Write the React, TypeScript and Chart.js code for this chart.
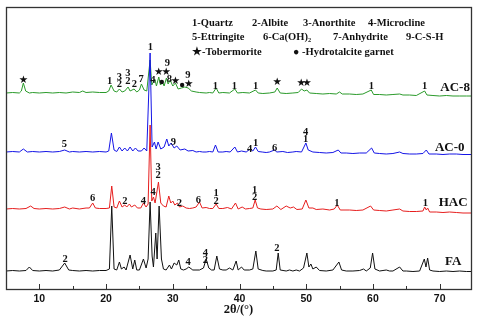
import React, { useEffect, useRef } from "react";
import { Chart, registerables } from "chart.js";

Chart.register(...registerables);

// ---- Data (2θ in degrees, stacked intensity in arbitrary units) ----
const seriesNames = ["FA", "AC-0", "HAC", "AC-8"];
const seriesColors = ["#111111", "#1414e6", "#e61e1e", "#2a9a2a"];

const faPoints: [number, number][] = [
  [5,18],[6,18.5],[7,18],[8,18.5],[8.5,22],[9,18.5],[10,18],[11,18.5],[12,18],[13,19],[13.8,26],[14.4,19],[15,18.5],[16,18],[17,18.5],[18,18],[19,18.5],[20,18.5],[20.5,20],[20.85,83],[21.2,20],[21.6,19],[22.0,27],[22.3,20],[22.7,22],[23.0,19],[23.6,34],[24.0,20],[24.3,29],[24.6,19],[25.0,19],[25.6,30],[26.0,21],[26.3,30],[26.6,87],[26.9,33],[27.1,22],[27.45,56],[27.65,30],[27.95,83],[28.3,30],[28.6,20],[29.0,19],[29.5,24],[29.8,20],[30.2,26],[30.6,24],[30.9,29],[31.2,20],[31.6,19],[32.0,20],[32.4,22],[33,19],[34,19],[34.6,21],[35.0,30],[35.4,21],[35.8,19],[36.2,19],[36.6,33],[37.0,20],[37.5,19],[38,19],[38.5,21],[39,19],[39.5,28],[39.8,19],[40.3,22],[40.7,19],[41.5,19],[42.0,20],[42.45,38],[42.8,20],[43.5,18.5],[44,18],[45,18],[45.5,19],[45.8,36],[46.1,19],[47,18],[47.5,19],[48,18],[48.5,19],[49,18],[49.6,21],[50.1,36],[50.4,22],[50.7,25],[51.0,20],[51.5,22],[52,18.5],[53,18],[54,19],[54.9,27],[55.3,19],[56,18],[57,18],[58,18.5],[58.6,20],[59,18],[59.6,21],[59.95,36],[60.3,20],[61,18],[62,19],[62.5,18],[63,18],[64,22],[64.5,18],[65,18],[66,17.5],[67,18],[67.7,30],[67.95,22],[68.2,31],[68.5,19],[69,18],[70,17.5],[71,18],[72,17.5],[73,18],[74,17.5],[75,17.5]
];

const hacPoints: [number, number][] = [
  [5,80],[6,80.5],[7,80],[8,80.5],[8.7,83],[9.2,80.5],[10,80],[11,80.5],[12,80],[13,80.5],[13.8,82],[14.5,80],[15,81],[16,80],[17,81],[17.5,81],[18.0,86],[18.4,81],[19,80.5],[20,80.5],[20.5,81],[20.85,103],[21.2,82],[21.6,81],[22.0,88],[22.4,82],[22.8,84],[23.1,82],[23.5,85],[23.8,82],[24.3,84],[24.7,81],[25.2,81],[25.6,86],[26.0,82],[26.3,85],[26.6,164],[26.85,88],[27.1,92],[27.35,86],[27.85,107],[28.2,86],[28.6,83],[29.0,82],[29.4,93],[29.7,86],[30.0,88],[30.3,84],[30.7,86],[31.0,82],[31.5,83],[32,81],[32.5,80.5],[33,81],[33.5,82],[34.0,87],[34.4,81],[35,81.5],[35.5,80.5],[36,80.5],[36.5,85],[36.9,80.5],[37.5,80.5],[38.2,81.5],[38.8,80],[39.4,86],[39.8,80],[40.4,82],[40.9,80],[41.5,80.5],[42.0,81],[42.35,89],[42.7,81],[43.2,80],[44,79.5],[45,80],[45.6,83],[46.2,79.5],[47.0,83],[47.6,81],[48.1,82],[48.6,79.5],[49.4,80],[49.95,89],[50.4,81],[51,81],[51.5,79.5],[52.5,80],[53.5,79],[54.2,80],[54.65,84],[55.1,79],[56.5,79],[57.5,78.5],[58.5,79],[59.65,83],[60.1,79],[61,78.5],[62,78],[63,79],[64,80],[64.5,78],[65.5,77.5],[66.5,77.5],[67.5,78],[67.75,82],[68.0,79],[68.2,81],[68.5,77],[69.5,77],[70.5,76.5],[71.5,77],[72.5,76.5],[73.5,76],[75,76]
];

const ac0Points: [number, number][] = [
  [5,137],[6,137.5],[7,137],[7.6,140],[8.2,137],[9,137.5],[10,137],[11,137.5],[12,137],[13,137.5],[13.8,139],[14.5,137],[15,137.5],[16,137],[17,137.5],[18,137],[19,137.5],[20,137],[20.4,138],[20.8,156],[21.2,139],[21.6,137.5],[22.0,142],[22.4,138],[22.8,141],[23.2,138],[23.6,142],[24.0,138],[24.4,141],[24.8,138],[25.3,138],[25.7,141],[26.1,138],[26.6,236],[26.9,142],[27.25,147],[27.5,140],[27.8,147],[28.2,140],[28.7,142],[29.1,150],[29.4,143],[29.75,146],[30.2,141],[30.6,143],[31.1,139],[31.8,140],[32.3,138],[33,138.5],[33.5,137],[34,137.5],[34.5,137],[35,137],[35.5,137.5],[36,137],[36.4,144],[36.8,137],[37.5,137],[38,137.5],[38.6,137],[39.3,142],[39.7,137],[40.3,138],[41.0,137],[41.6,140],[42.0,138],[42.4,142],[42.8,137.5],[43.4,137],[44,136.5],[44.5,137],[45.25,139],[45.6,137],[46.5,137.5],[47.2,136.5],[48,137],[48.5,137.5],[49.3,137],[49.95,146],[50.3,139],[51,137],[52,136.5],[53,136],[54,136.5],[54.8,139],[55.2,136],[56,136],[57,135.5],[58,136],[59,136],[59.8,141],[60.2,136],[61,135.5],[62,135],[63,135.5],[64,137],[64.5,135.5],[65.5,135],[66.5,135],[67.5,135.5],[68,139],[68.4,135],[69.5,135],[70.5,134.5],[71.5,135],[72.5,135],[73.5,134.5],[75,134.5]
];

const ac8Points: [number, number][] = [
  [5,196],[6,196.5],[7,196],[7.3,198],[7.6,206],[7.95,198],[8.5,196],[9,196.5],[10,196],[11,196.5],[12,196],[13,196.5],[14,196],[15,197],[16,196.5],[16.5,198],[17,196.5],[18,197],[19,196.5],[20,196.5],[20.4,198],[20.75,204],[21.2,198],[21.6,197],[22.0,200],[22.4,197],[22.8,198],[23.3,202],[23.6,198],[24.2,200],[24.6,197],[25.0,199],[25.3,205],[25.7,199],[26.1,198],[26.6,229],[26.85,204],[27.3,210],[27.55,203],[27.9,212],[28.15,204],[28.45,207],[28.7,203],[29.05,211],[29.3,205],[29.6,209],[30.0,203],[30.4,206],[30.8,200],[31.3,201],[31.8,202],[32.3,201],[32.8,198],[33.5,197],[34,196.5],[35,196],[35.5,196.5],[36,196],[36.5,201],[36.9,196],[37.5,196.5],[38.5,196],[39.3,200],[39.7,196],[40.5,196.5],[41.5,196],[42.4,199],[42.8,196],[43.5,195.5],[44.5,196],[45.3,197],[45.65,201],[46.1,196],[47,195.5],[48,196],[48.8,196.5],[49.3,200],[49.7,198],[50.1,199],[50.5,196],[51.5,195.5],[52.5,195],[53.5,195.5],[54.5,195],[55,197],[55.4,195],[56.5,195],[57.5,194.5],[58.5,195],[59.75,199],[60.1,194.5],[61,194.5],[62,194],[63,194.5],[64,195],[64.5,194],[65.5,194],[66.5,193.5],[67.75,198],[68.1,194],[69,193.5],[70,193],[71,193.5],[72,193],[73,193],[74,193],[75,193]
];

const seriesPoints = [faPoints, ac0Points, hacPoints, ac8Points];

const xMin = 5;
const xMax = 74.7;
const yMin = 0;
const yMax = 282;
const xTickValues = [10, 20, 30, 40, 50, 60, 70];
const xTickLabels = ["10", "20", "30", "40", "50", "60", "70"];
const xMinorTicks = [15, 25, 35, 45, 55, 65];
const xAxisTitle = "2θ/(°)";

// Phase marks: [2θ, intensity level, text, series index]
const phaseMarks: [number, number, string, number][] = [
  // AC-8
  [7.6, 209, "★", 3], [20.55, 208, "1", 3], [22.0, 212, "3", 3], [22.0, 205, "2", 3],
  [23.25, 216, "3", 3], [23.25, 208, "2", 3], [24.25, 205, "2", 3], [25.25, 210, "7", 3],
  [26.65, 242, "1", 1], [27.0, 209, "4", 3], [27.9, 217, "★", 3], [29.0, 217, "★", 3],
  [29.2, 226, "9", 3], [28.35, 207, "●", 3], [29.5, 210, "8", 3], [30.4, 208, "★", 3],
  [31.4, 204, "●", 3], [32.25, 214, "9", 3], [32.4, 205, "★", 3], [36.4, 203, "1", 3],
  [39.25, 203, "1", 3], [42.4, 203, "1", 3], [45.65, 207, "★", 3], [49.25, 206, "★", 3],
  [50.1, 206, "★", 3], [59.75, 203, "1", 3], [67.75, 203, "1", 3],
  // AC-0
  [13.75, 145, "5", 1], [30.1, 147, "9", 1], [41.5, 140, "4", 1], [42.4, 146, "1", 1],
  [45.25, 141, "6", 1], [49.9, 157, "4", 1], [49.9, 150, "1", 1],
  // HAC
  [18.0, 91, "6", 2], [22.8, 88, "2", 2], [25.6, 88, "4", 2], [27.05, 97, "4", 2],
  [27.8, 122, "3", 2], [27.8, 114, "2", 2], [31.0, 86, "2", 2], [33.85, 89, "6", 2],
  [36.5, 96, "1", 2], [36.5, 88, "2", 2], [42.25, 99, "1", 2], [42.25, 92, "2", 2],
  [54.6, 86, "1", 2], [67.85, 86, "1", 2],
  // FA
  [13.85, 30, "2", 0], [32.3, 27, "4", 0], [34.9, 36, "4", 0], [34.9, 29, "2", 0],
  [45.6, 41, "2", 0],
];

// Series name positions: [left 2θ, level]
const seriesLabelPos: [number, number][] = [[70.8, 27], [69.3, 141], [69.85, 86], [70.1, 201]];

const legendRows: [string, number][][] = [
  [["1-Quartz", 192], ["2-Albite", 252], ["3-Anorthite", 303], ["4-Microcline", 368]],
  [["5-Ettringite", 192], ["6-Ca(OH)₂", 263], ["7-Anhydrite", 333], ["9-C-S-H", 406]],
  [["★-Tobermorite", 192], ["● -Hydrotalcite garnet", 293]],
];

const SERIF = '"Liberation Serif", "Times New Roman", serif';
const SANS = '"Liberation Sans", Arial, sans-serif';

const decorPlugin = {
  id: "xrdDecor",
  afterDatasetsDraw(chart: any) {
    const { ctx, chartArea } = chart;
    const xs = chart.scales.x;
    const ys = chart.scales.y;
    const { left, right, top, bottom } = chartArea;
    ctx.save();
    // frame
    ctx.strokeStyle = "#333";
    ctx.lineWidth = 1.3;
    ctx.strokeRect(Math.round(left) + 0.5, Math.round(top) + 0.5, Math.round(right - left), Math.round(bottom - top));
    // ticks (inward)
    ctx.lineWidth = 1;
    ctx.beginPath();
    xTickValues.forEach((v) => {
      const px = Math.round(xs.getPixelForValue(v)) + 0.5;
      ctx.moveTo(px, bottom);
      ctx.lineTo(px, bottom - 5);
    });
    xMinorTicks.forEach((v) => {
      const px = Math.round(xs.getPixelForValue(v)) + 0.5;
      ctx.moveTo(px, bottom);
      ctx.lineTo(px, bottom - 3);
    });
    ctx.stroke();
    // tick labels
    ctx.fillStyle = "#111";
    ctx.font = `bold 10.5px ${SANS}`;
    ctx.textAlign = "center";
    ctx.textBaseline = "middle";
    xTickValues.forEach((v, i) => {
      ctx.fillText(xTickLabels[i], xs.getPixelForValue(v), bottom + 10);
    });
    // axis title
    ctx.font = `bold 12.5px ${SERIF}`;
    ctx.fillText(xAxisTitle, (left + right) / 2, bottom + 21);

    // legend text
    ctx.font = `bold 10.5px ${SERIF}`;
    ctx.textAlign = "left";
    legendRows.forEach((row, r) => {
      row.forEach(([txt, px]) => {
        ctx.fillText(txt, px, top + 16 + r * 14.5);
      });
    });

    // annotations, clipped to plot area
    ctx.beginPath();
    ctx.rect(left, top, right - left, bottom - top);
    ctx.clip();
    ctx.textAlign = "center";
    phaseMarks.forEach(([x, y, t]) => {
      const px = xs.getPixelForValue(x);
      const py = ys.getPixelForValue(y);
      if (t === "●") {
        ctx.beginPath();
        ctx.arc(px, py, 2.2, 0, Math.PI * 2);
        ctx.fill();
      } else if (t === "★") {
        ctx.font = `10.5px "DejaVu Sans", sans-serif`;
        ctx.fillText(t, px, py);
      } else {
        ctx.font = `bold 10.5px ${SERIF}`;
        ctx.fillText(t, px, py);
      }
    });
    ctx.textAlign = "left";
    ctx.font = `bold 13px ${SERIF}`;
    seriesLabelPos.forEach(([x, y], i) => {
      ctx.fillText(seriesNames[i], xs.getPixelForValue(x), ys.getPixelForValue(y));
    });
    ctx.restore();
  },
};

export default function App() {
  const canvasRef = useRef<HTMLCanvasElement | null>(null);

  useEffect(() => {
    document.body.style.margin = "0";
    const canvas = canvasRef.current;
    if (!canvas) return;
    const chart = new Chart(canvas, {
      type: "line",
      data: {
        datasets: seriesPoints.map((pts, i) => ({
          label: seriesNames[i],
          data: pts.map(([x, y]) => ({ x, y })),
          borderColor: seriesColors[i],
          backgroundColor: seriesColors[i],
          borderWidth: 1,
          pointRadius: 0,
          tension: 0,
          fill: false,
        })),
      },
      options: {
        animation: false,
        responsive: false,
        devicePixelRatio: 1,
        layout: { padding: { left: 6, right: 9, top: 7, bottom: 30 } },
        plugins: { legend: { display: false }, tooltip: { enabled: false } },
        scales: {
          x: { type: "linear", min: xMin, max: xMax, display: false },
          y: { type: "linear", min: yMin, max: yMax, display: false },
        },
      },
      plugins: [decorPlugin],
    });
    return () => chart.destroy();
  }, []);

  return (
    <div style={{ position: "absolute", left: 0, top: 0, width: 480, height: 319, background: "#fff" }}>
      <canvas ref={canvasRef} width={480} height={319} />
    </div>
  );
}
